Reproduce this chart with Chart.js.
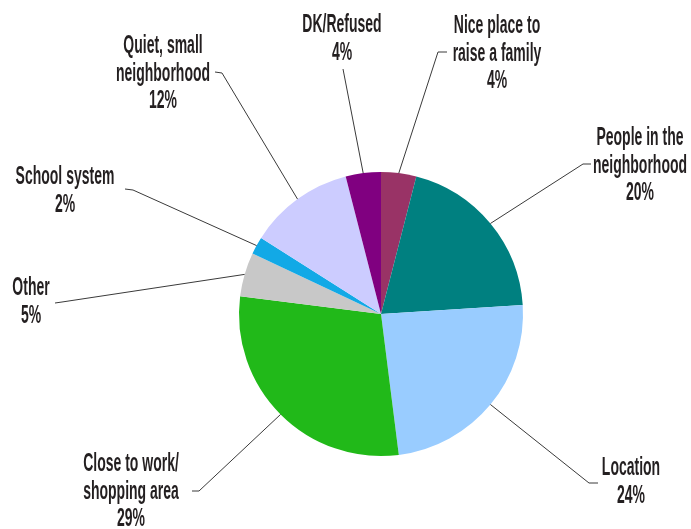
<!DOCTYPE html>
<html>
  <head>
    <script src="https://cdn.jsdelivr.net/npm/chart.js"></script>
    <title>Pie</title>
    <style>
      body {
        margin: 0;
        background: #ffffff;
      }
      #grafico {
        display: block;
      }
    </style>
  </head>
  <body>
    <canvas id="grafico" width="691" height="529"></canvas>
    <script>
      // datos del grafico
      const categorias = [
        "Nice place to raise a family",
        "People in the neighborhood",
        "Location",
        "Close to work/ shopping area",
        "Other",
        "School system",
        "Quiet, small neighborhood",
        "DK/Refused"
      ];
      const valores = [4, 20, 24, 29, 5, 2, 12, 4];
      // texto de cada etiqueta, linea por linea
      const etiquetas = [
        ["Nice place to", "raise a family"],
        ["People in the", "neighborhood"],
        ["Location"],
        ["Close to work/", "shopping area"],
        ["Other"],
        ["School system"],
        ["Quiet, small", "neighborhood"],
        ["DK/Refused"]
      ];
      const colores = [
        "#993366", "#008080", "#99ccff", "#21b919",
        "#c8c8c8", "#12a9e6", "#ccccff", "#800080"
      ];

      // donde van las etiquetas: codo de la linea, fin de la linea, centro del texto
      const posEtiquetas = [
        { codo: [438, 52], fin: [447, 52], tx: 497, ty: 24 },
        { codo: [583, 164], fin: [591, 164], tx: 640, ty: 136 },
        { codo: [589, 483], fin: [598, 483], tx: 631, ty: 466 },
        { codo: [199, 491], fin: [192, 491], tx: 131, ty: 462 },
        { codo: [62, 302], fin: [55, 303], tx: 31, ty: 286 },
        { codo: [133, 190], fin: [125, 189], tx: 65, ty: 175 },
        { codo: [222, 73], fin: [215, 72], tx: 163, ty: 44 },
        { codo: [343, 69], fin: [343, 69], tx: 342, ty: 23 }
      ];
      const ALTO_LINEA = 27.5;
      const ESCALA_X = 0.56;

      const etiquetasPlugin = {
        id: "etiquetas",
        afterDraw(chart) {
          const ctx = chart.ctx;
          const arcos = chart.getDatasetMeta(0).data;
          ctx.save();
          ctx.strokeStyle = "#3a3a3a";
          ctx.lineWidth = 1;
          arcos.forEach((arco, i) => {
            const p = posEtiquetas[i];
            const medio = (arco.startAngle + arco.endAngle) / 2;
            const x0 = arco.x + Math.cos(medio) * arco.outerRadius;
            const y0 = arco.y + Math.sin(medio) * arco.outerRadius;
            ctx.beginPath();
            ctx.moveTo(x0, y0);
            ctx.lineTo(p.codo[0], p.codo[1]);
            ctx.lineTo(p.fin[0], p.fin[1]);
            ctx.stroke();

            const lineas = etiquetas[i].concat([valores[i] + "%"]);
            ctx.fillStyle = "#231f20";
            ctx.font = "bold 25px 'Liberation Sans', Arial, sans-serif";
            ctx.textAlign = "center";
            ctx.textBaseline = "alphabetic";
            lineas.forEach((txt, j) => {
              ctx.save();
              ctx.translate(p.tx, p.ty + j * ALTO_LINEA + 9);
              ctx.scale(ESCALA_X, 1);
              ctx.fillText(txt, 0, 0);
              ctx.restore();
            });
          });
          ctx.restore();
        }
      };

      new Chart(document.getElementById("grafico"), {
        type: "pie",
        data: {
          labels: categorias,
          datasets: [
            {
              data: valores,
              backgroundColor: colores,
              borderWidth: 0,
              hoverOffset: 0
            }
          ]
        },
        options: {
          responsive: false,
          animation: false,
          layout: {
            padding: { top: 172, bottom: 73, left: 239, right: 168 }
          },
          plugins: {
            legend: { display: false },
            tooltip: { enabled: false }
          }
        },
        plugins: [etiquetasPlugin]
      });
    </script>
  </body>
</html>
